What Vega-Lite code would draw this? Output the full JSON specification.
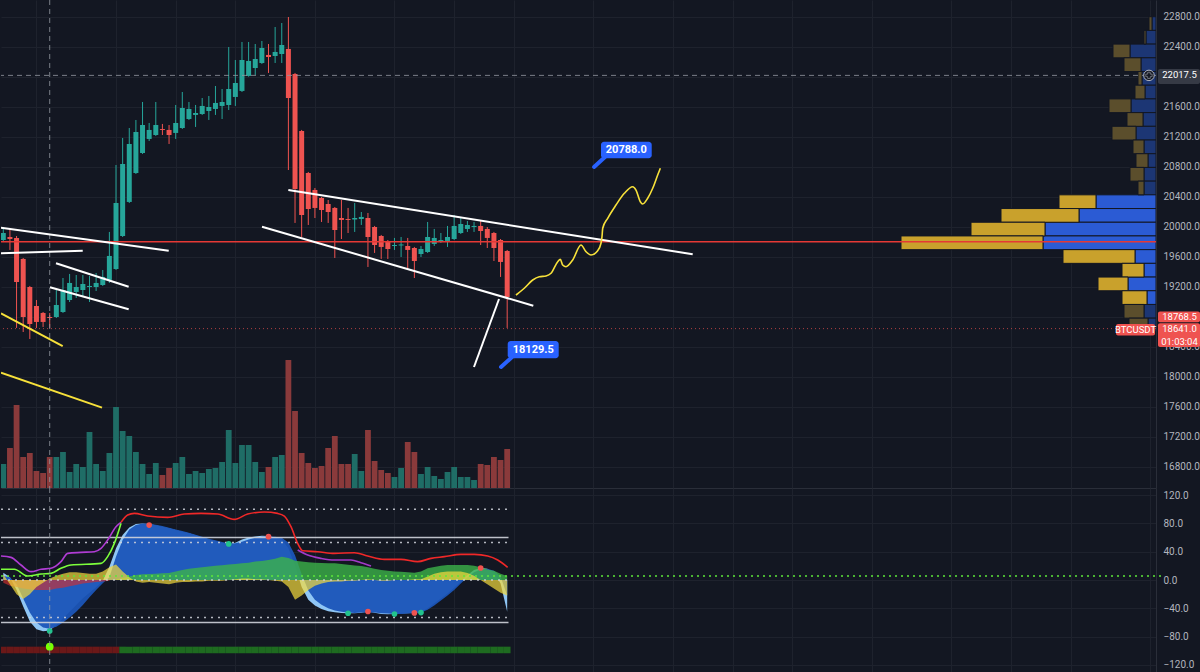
{
"$schema":"https://vega.github.io/schema/vega-lite/v6.json",
"background":"#131722",
"padding":0,
"spacing":0,
"config":{"view":{"stroke":null},"scale":{"continuousPadding":0},"axis":{"labelFont":"Roboto","labelFontSize":10,"labelColor":"#b2b5be","gridColor":"#1e222d","domainColor":"#2a2e39","ticks":false,"labelFlush":false,"labelOverlap":false}},
"datasets":{
"candles":[
{"i":0,"o":19823,"h":19996,"l":19796,"c":19916,"vol":240},
{"i":1,"o":19863,"h":19970,"l":19690,"c":19836,"vol":400},
{"i":2,"o":19850,"h":19876,"l":18650,"c":19263,"vol":830},
{"i":3,"o":19570,"h":19583,"l":18596,"c":18796,"vol":310},
{"i":4,"o":19196,"h":19210,"l":18503,"c":18703,"vol":350},
{"i":5,"o":18943,"h":19023,"l":18650,"c":18730,"vol":170},
{"i":6,"o":18850,"h":18863,"l":18663,"c":18730,"vol":150},
{"i":7,"o":18796,"h":18850,"l":18650,"c":18783,"vol":310},
{"i":8,"o":18796,"h":19156,"l":18783,"c":18956,"vol":310},
{"i":9,"o":18863,"h":19316,"l":18850,"c":19156,"vol":360},
{"i":10,"o":19023,"h":19370,"l":18996,"c":19250,"vol":160},
{"i":11,"o":19130,"h":19356,"l":19050,"c":19196,"vol":240},
{"i":12,"o":19156,"h":19356,"l":19063,"c":19236,"vol":210},
{"i":13,"o":19196,"h":19343,"l":18996,"c":19210,"vol":560},
{"i":14,"o":19196,"h":19383,"l":19143,"c":19250,"vol":240},
{"i":15,"o":19223,"h":19423,"l":19210,"c":19330,"vol":170},
{"i":16,"o":19290,"h":19930,"l":19250,"c":19610,"vol":350},
{"i":17,"o":19436,"h":20823,"l":19423,"c":20316,"vol":810},
{"i":18,"o":19876,"h":21183,"l":19863,"c":20836,"vol":570},
{"i":19,"o":20330,"h":21316,"l":20316,"c":21103,"vol":520},
{"i":20,"o":20716,"h":21423,"l":20703,"c":21263,"vol":360},
{"i":21,"o":20983,"h":21663,"l":20970,"c":21356,"vol":240},
{"i":22,"o":21170,"h":21383,"l":21143,"c":21290,"vol":140},
{"i":23,"o":21223,"h":21663,"l":21210,"c":21356,"vol":250},
{"i":24,"o":21303,"h":21370,"l":21223,"c":21290,"vol":130},
{"i":25,"o":21290,"h":21356,"l":21103,"c":21223,"vol":200},
{"i":26,"o":21250,"h":21623,"l":21170,"c":21383,"vol":250},
{"i":27,"o":21316,"h":21796,"l":21303,"c":21583,"vol":310},
{"i":28,"o":21436,"h":21663,"l":21423,"c":21570,"vol":140},
{"i":29,"o":21490,"h":21623,"l":21330,"c":21516,"vol":170},
{"i":30,"o":21503,"h":21716,"l":21490,"c":21610,"vol":150},
{"i":31,"o":21543,"h":21743,"l":21423,"c":21596,"vol":190},
{"i":32,"o":21570,"h":21876,"l":21490,"c":21650,"vol":200},
{"i":33,"o":21610,"h":21836,"l":21436,"c":21663,"vol":260},
{"i":34,"o":21623,"h":22396,"l":21556,"c":21836,"vol":580},
{"i":35,"o":21730,"h":22223,"l":21610,"c":21916,"vol":250},
{"i":36,"o":21810,"h":22463,"l":21796,"c":22223,"vol":430},
{"i":37,"o":22010,"h":22463,"l":22000,"c":22210,"vol":430},
{"i":38,"o":22116,"h":22436,"l":22023,"c":22236,"vol":260},
{"i":39,"o":22183,"h":22476,"l":22170,"c":22383,"vol":160},
{"i":40,"o":22290,"h":22436,"l":22050,"c":22263,"vol":210},
{"i":41,"o":22276,"h":22663,"l":22183,"c":22330,"vol":310},
{"i":42,"o":22303,"h":22716,"l":22183,"c":22423,"vol":330},
{"i":43,"o":22370,"h":22796,"l":20756,"c":21716,"vol":1280},
{"i":44,"o":22036,"h":22050,"l":20050,"c":20503,"vol":770},
{"i":45,"o":21276,"h":21290,"l":19863,"c":20156,"vol":350},
{"i":46,"o":20716,"h":20730,"l":20023,"c":20236,"vol":250},
{"i":47,"o":20490,"h":20516,"l":20116,"c":20250,"vol":200},
{"i":48,"o":20383,"h":20396,"l":20063,"c":20223,"vol":220},
{"i":49,"o":20303,"h":20356,"l":20050,"c":20196,"vol":400},
{"i":50,"o":20250,"h":20263,"l":19583,"c":19956,"vol":520},
{"i":51,"o":20116,"h":20356,"l":19836,"c":20090,"vol":240},
{"i":52,"o":20103,"h":20250,"l":19916,"c":20090,"vol":240},
{"i":53,"o":20096,"h":20316,"l":19930,"c":20116,"vol":340},
{"i":54,"o":20103,"h":20196,"l":20023,"c":20130,"vol":170},
{"i":55,"o":20116,"h":20183,"l":19463,"c":19863,"vol":580},
{"i":56,"o":19996,"h":20010,"l":19650,"c":19756,"vol":270},
{"i":57,"o":19876,"h":19890,"l":19570,"c":19730,"vol":180},
{"i":58,"o":19796,"h":19823,"l":19570,"c":19703,"vol":150},
{"i":59,"o":19743,"h":19850,"l":19690,"c":19756,"vol":110},
{"i":60,"o":19750,"h":19863,"l":19596,"c":19763,"vol":200},
{"i":61,"o":19743,"h":19850,"l":19436,"c":19690,"vol":460},
{"i":62,"o":19716,"h":19730,"l":19316,"c":19543,"vol":360},
{"i":63,"o":19636,"h":19743,"l":19596,"c":19703,"vol":140},
{"i":64,"o":19663,"h":20063,"l":19650,"c":19863,"vol":210},
{"i":65,"o":19770,"h":19970,"l":19743,"c":19850,"vol":120},
{"i":66,"o":19810,"h":19916,"l":19783,"c":19823,"vol":90},
{"i":67,"o":19810,"h":20010,"l":19730,"c":19863,"vol":160},
{"i":68,"o":19836,"h":20156,"l":19823,"c":20010,"vol":210},
{"i":69,"o":19916,"h":20116,"l":19903,"c":20036,"vol":110},
{"i":70,"o":19970,"h":20076,"l":19930,"c":20023,"vol":110},
{"i":71,"o":19996,"h":20063,"l":19930,"c":20010,"vol":80},
{"i":72,"o":20010,"h":20076,"l":19756,"c":19943,"vol":240},
{"i":73,"o":19970,"h":19996,"l":19716,"c":19850,"vol":230},
{"i":74,"o":19916,"h":19930,"l":19543,"c":19716,"vol":310},
{"i":75,"o":19823,"h":19836,"l":19330,"c":19530,"vol":280},
{"i":76,"o":19676,"h":19690,"l":18650,"c":19063,"vol":390}
],
"profile":[
{"lo":22617.3,"hi":22800,"up":4,"total":7,"va":false},
{"lo":22434.6,"hi":22617.3,"up":10,"total":12,"va":false},
{"lo":22251.9,"hi":22434.6,"up":26,"total":43,"va":false},
{"lo":22069.2,"hi":22251.9,"up":15,"total":32,"va":false},
{"lo":21886.5,"hi":22069.2,"up":14,"total":18,"va":false},
{"lo":21703.8,"hi":21886.5,"up":11,"total":21,"va":false},
{"lo":21521.1,"hi":21703.8,"up":25,"total":47,"va":false},
{"lo":21338.4,"hi":21521.1,"up":13,"total":29,"va":false},
{"lo":21155.7,"hi":21338.4,"up":20,"total":44,"va":false},
{"lo":20973,"hi":21155.7,"up":12,"total":23,"va":false},
{"lo":20790.3,"hi":20973,"up":8,"total":20,"va":false},
{"lo":20607.6,"hi":20790.3,"up":12,"total":26,"va":false},
{"lo":20424.9,"hi":20607.6,"up":12,"total":18,"va":false},
{"lo":20242.2,"hi":20424.9,"up":60,"total":97,"va":true},
{"lo":20059.5,"hi":20242.2,"up":77,"total":155,"va":true},
{"lo":19876.8,"hi":20059.5,"up":111,"total":185,"va":true},
{"lo":19694.1,"hi":19876.8,"up":113,"total":255,"va":true},
{"lo":19511.4,"hi":19694.1,"up":21,"total":93,"va":true},
{"lo":19328.7,"hi":19511.4,"up":12,"total":34,"va":true},
{"lo":19146,"hi":19328.7,"up":28,"total":58,"va":true},
{"lo":18963.3,"hi":19146,"up":9,"total":34,"va":true},
{"lo":18780.6,"hi":18963.3,"up":12,"total":32,"va":false},
{"lo":18597.9,"hi":18780.6,"up":8,"total":27,"va":false}
],
"draw":[
{"id":"a","kind":"white","t":-0.35,"p":19987},{"id":"a","kind":"white","t":24.95,"p":19680},
{"id":"b","kind":"white","t":-0.35,"p":19645},{"id":"b","kind":"white","t":11.98,"p":19680},
{"id":"c","kind":"white","t":7.95,"p":19512},{"id":"c","kind":"white","t":18.91,"p":19200},
{"id":"d","kind":"white","t":7.04,"p":19192},{"id":"d","kind":"white","t":18.91,"p":18899},
{"id":"e","kind":"white","t":42.99,"p":20489},{"id":"e","kind":"white","t":103.98,"p":19632},
{"id":"f","kind":"white","t":39.02,"p":20000},{"id":"f","kind":"white","t":79.94,"p":18947},
{"id":"g","kind":"white","t":70.99,"p":18129.5},{"id":"g","kind":"white","t":74.77,"p":19036},
{"id":"ya","kind":"yellow","t":-0.35,"p":18845},{"id":"ya","kind":"yellow","t":8.96,"p":18409},
{"id":"yb","kind":"yellow","t":-0.35,"p":18054},{"id":"yb","kind":"yellow","t":14.89,"p":17587},
{"id":"yp","kind":"path","t":77.33,"p":19089},{"id":"yp","kind":"path","t":78.58,"p":19179},
{"id":"yp","kind":"path","t":79.85,"p":19289},{"id":"yp","kind":"path","t":80.84,"p":19333},
{"id":"yp","kind":"path","t":81.86,"p":19343},{"id":"yp","kind":"path","t":82.61,"p":19379},
{"id":"yp","kind":"path","t":83.62,"p":19533},{"id":"yp","kind":"path","t":84.01,"p":19565},
{"id":"yp","kind":"path","t":84.37,"p":19489},{"id":"yp","kind":"path","t":84.87,"p":19467},
{"id":"yp","kind":"path","t":85.88,"p":19556},{"id":"yp","kind":"path","t":87.13,"p":19756},
{"id":"yp","kind":"path","t":87.89,"p":19667},{"id":"yp","kind":"path","t":88.64,"p":19623},
{"id":"yp","kind":"path","t":89.65,"p":19680},{"id":"yp","kind":"path","t":90.15,"p":19779},
{"id":"yp","kind":"path","t":90.3,"p":19867},{"id":"yp","kind":"path","t":90.41,"p":19979},
{"id":"yp","kind":"path","t":91.16,"p":20112},{"id":"yp","kind":"path","t":92.41,"p":20289},
{"id":"yp","kind":"path","t":93.67,"p":20445},{"id":"yp","kind":"path","t":94.93,"p":20533},
{"id":"yp","kind":"path","t":95.43,"p":20489},{"id":"yp","kind":"path","t":96.08,"p":20333},
{"id":"yp","kind":"path","t":96.44,"p":20303},{"id":"yp","kind":"path","t":97.19,"p":20379},
{"id":"yp","kind":"path","t":97.95,"p":20512},{"id":"yp","kind":"path","t":98.7,"p":20689},
{"id":"yp","kind":"path","t":99.1,"p":20779}
],
"hl":[{"name":"res","p":19800},{"name":"cross","p":22017.5},{"name":"last","p":18641}],
"vline":[{"t":7}],
"notes":[
{"label":"20788.0","t0":90.15,"t1":97.8,"p0":20912,"p1":21133,"tt":93.97,"tp":21023,"at":89.1,"ap":20796,"bt":90.75,"bp":20929},
{"label":"18129.5","t0":76.08,"t1":83.77,"p0":18245,"p1":18476,"tt":79.93,"tp":18360,"at":75.07,"ap":18129.5,"bt":76.73,"bp":18262}
],
"tags":[
{"label":"22017.5","kind":"cross","t0":174.16,"t1":180.5,"p0":21903,"p1":22103,"tt":177.4,"tp":22017.5},
{"label":"18768.5","kind":"red","t0":174.16,"t1":180.5,"p0":18727,"p1":18869,"tt":177.4,"tp":18798},
{"label":"18641.0","kind":"red","t0":174.16,"t1":180.5,"p0":18396,"p1":18712,"tt":177.4,"tp":18638},
{"label":"BTCUSDT","kind":"red","t0":167.83,"t1":173.71,"p0":18549,"p1":18703,"tt":170.77,"tp":18628},
{"label":"01:03:04","kind":"time","t0":174.16,"t1":180.5,"p0":18470,"p1":18470,"tt":177.4,"tp":18468}
],
"icon":[{"t":172.8,"p":22017.5}],
"osc":[
{"i":0,"wt1":10.4,"wt2":5.6,"vw":8,"mfi":-4,"st":0},
{"i":1,"wt1":3.8,"wt2":4,"vw":-6,"mfi":-8,"st":0},
{"i":2,"wt1":-14.1,"wt2":-6,"vw":-20,"mfi":-10,"st":0},
{"i":3,"wt1":-37.6,"wt2":-26,"vw":-27,"mfi":-12,"st":0},
{"i":4,"wt1":-58.8,"wt2":-46,"vw":-20,"mfi":-13,"st":0},
{"i":5,"wt1":-69.6,"wt2":-60,"vw":-10,"mfi":-14,"st":0},
{"i":6,"wt1":-72.5,"wt2":-67,"vw":-4,"mfi":-14,"st":0},
{"i":7,"wt1":-71.5,"wt2":-69,"vw":2,"mfi":-14,"st":0},
{"i":8,"wt1":-63.5,"wt2":-66,"vw":6,"mfi":-12,"st":0},
{"i":9,"wt1":-54.1,"wt2":-60,"vw":9,"mfi":-11,"st":0},
{"i":10,"wt1":-44.7,"wt2":-53,"vw":11,"mfi":-9,"st":0},
{"i":11,"wt1":-35.3,"wt2":-44.7,"vw":11,"mfi":-7,"st":0},
{"i":12,"wt1":-25.9,"wt2":-35.3,"vw":10,"mfi":-5,"st":0},
{"i":13,"wt1":-17.9,"wt2":-24.5,"vw":9,"mfi":-4,"st":0},
{"i":14,"wt1":-10.4,"wt2":-14.1,"vw":9,"mfi":-3,"st":0},
{"i":15,"wt1":-0.9,"wt2":-4.7,"vw":12,"mfi":-2,"st":0},
{"i":16,"wt1":18.8,"wt2":3.8,"vw":18,"mfi":-1,"st":0},
{"i":17,"wt1":44.7,"wt2":33,"vw":22,"mfi":1,"st":0},
{"i":18,"wt1":63.5,"wt2":56.5,"vw":12,"mfi":3,"st":1},
{"i":19,"wt1":74.3,"wt2":71.5,"vw":4,"mfi":5,"st":1},
{"i":20,"wt1":79.1,"wt2":77.6,"vw":-2,"mfi":7,"st":1},
{"i":21,"wt1":80,"wt2":80,"vw":-4,"mfi":8,"st":1},
{"i":22,"wt1":79.1,"wt2":79.5,"vw":-3,"mfi":8.5,"st":1},
{"i":23,"wt1":77.2,"wt2":78.1,"vw":-4,"mfi":9,"st":1},
{"i":24,"wt1":75.3,"wt2":76.2,"vw":-5,"mfi":9.4,"st":1},
{"i":25,"wt1":73,"wt2":73.9,"vw":-6,"mfi":10,"st":1},
{"i":26,"wt1":70.6,"wt2":71.5,"vw":-4,"mfi":12,"st":1},
{"i":27,"wt1":68.2,"wt2":69.2,"vw":-3,"mfi":14,"st":1},
{"i":28,"wt1":65.9,"wt2":66.8,"vw":-3,"mfi":16,"st":1},
{"i":29,"wt1":63.1,"wt2":64,"vw":-2,"mfi":17,"st":1},
{"i":30,"wt1":60.2,"wt2":61.2,"vw":-2,"mfi":18,"st":1},
{"i":31,"wt1":57.4,"wt2":58.4,"vw":-1,"mfi":19,"st":1},
{"i":32,"wt1":55.1,"wt2":56,"vw":-1,"mfi":20,"st":1},
{"i":33,"wt1":52.7,"wt2":53.7,"vw":-1,"mfi":21,"st":1},
{"i":34,"wt1":50.3,"wt2":51.8,"vw":0,"mfi":22,"st":1},
{"i":35,"wt1":52.7,"wt2":51.8,"vw":1,"mfi":22.6,"st":1},
{"i":36,"wt1":57.4,"wt2":54.1,"vw":2,"mfi":23.5,"st":1},
{"i":37,"wt1":60.2,"wt2":57.4,"vw":2,"mfi":24.5,"st":1},
{"i":38,"wt1":61.6,"wt2":59.8,"vw":1,"mfi":26,"st":1},
{"i":39,"wt1":62.6,"wt2":61.2,"vw":1,"mfi":27,"st":1},
{"i":40,"wt1":62.1,"wt2":61.6,"vw":0,"mfi":28.2,"st":1},
{"i":41,"wt1":60.2,"wt2":61.2,"vw":-1,"mfi":30,"st":1},
{"i":42,"wt1":57.4,"wt2":59.8,"vw":-2,"mfi":33,"st":1},
{"i":43,"wt1":45,"wt2":53,"vw":-10,"mfi":31,"st":1},
{"i":44,"wt1":20,"wt2":35,"vw":-28,"mfi":27.3,"st":1},
{"i":45,"wt1":-10,"wt2":8,"vw":-22,"mfi":26,"st":1},
{"i":46,"wt1":-28,"wt2":-15,"vw":-14,"mfi":25,"st":1},
{"i":47,"wt1":-36,"wt2":-28,"vw":-8,"mfi":24.5,"st":1},
{"i":48,"wt1":-41,"wt2":-35,"vw":-5,"mfi":24,"st":1},
{"i":49,"wt1":-44,"wt2":-40,"vw":-3,"mfi":23.7,"st":1},
{"i":50,"wt1":-45.5,"wt2":-43,"vw":-2,"mfi":23.5,"st":1},
{"i":51,"wt1":-46.5,"wt2":-45,"vw":-2,"mfi":22.5,"st":1},
{"i":52,"wt1":-47.1,"wt2":-46,"vw":-1,"mfi":21.5,"st":1},
{"i":53,"wt1":-47.1,"wt2":-46.5,"vw":-1,"mfi":20.5,"st":1},
{"i":54,"wt1":-46.1,"wt2":-46,"vw":0,"mfi":19.8,"st":1},
{"i":55,"wt1":-44.7,"wt2":-46,"vw":1,"mfi":18,"st":1},
{"i":56,"wt1":-46.1,"wt2":-46,"vw":0,"mfi":16,"st":1},
{"i":57,"wt1":-48,"wt2":-47,"vw":-1,"mfi":14.1,"st":1},
{"i":58,"wt1":-48.5,"wt2":-47.5,"vw":-1,"mfi":13,"st":1},
{"i":59,"wt1":-48,"wt2":-48,"vw":0,"mfi":12,"st":1},
{"i":60,"wt1":-47.5,"wt2":-48,"vw":0,"mfi":11.8,"st":1},
{"i":61,"wt1":-47.1,"wt2":-47.5,"vw":0,"mfi":11,"st":1},
{"i":62,"wt1":-46.1,"wt2":-47,"vw":1,"mfi":10.4,"st":1},
{"i":63,"wt1":-45.2,"wt2":-46,"vw":1,"mfi":12,"st":1},
{"i":64,"wt1":-40,"wt2":-42,"vw":5,"mfi":16.5,"st":1},
{"i":65,"wt1":-33,"wt2":-36,"vw":9,"mfi":18.5,"st":1},
{"i":66,"wt1":-26,"wt2":-29,"vw":11,"mfi":20,"st":1},
{"i":67,"wt1":-19,"wt2":-22,"vw":12,"mfi":21.2,"st":1},
{"i":68,"wt1":-11,"wt2":-14,"vw":12,"mfi":21.2,"st":1},
{"i":69,"wt1":-2,"wt2":-5,"vw":12,"mfi":21.2,"st":1},
{"i":70,"wt1":7,"wt2":4,"vw":10,"mfi":21.2,"st":1},
{"i":71,"wt1":14,"wt2":11,"vw":6,"mfi":20,"st":1},
{"i":72,"wt1":17,"wt2":15,"vw":0,"mfi":18,"st":1},
{"i":73,"wt1":16,"wt2":16,"vw":-6,"mfi":15,"st":1},
{"i":74,"wt1":10,"wt2":13,"vw":-12,"mfi":13,"st":1},
{"i":75,"wt1":-5,"wt2":5,"vw":-18,"mfi":9,"st":1},
{"i":76,"wt1":-45,"wt2":-22,"vw":-22,"mfi":5.6,"st":1}
],
"stoch":[
{"s":"purple","t":-0.35,"v":33.9},{"s":"purple","t":1.16,"v":32},{"s":"purple","t":2.67,"v":21.2},{"s":"purple","t":4.18,"v":11.8},{"s":"purple","t":5.69,"v":15.1},{"s":"purple","t":7.19,"v":16.5},{"s":"purple","t":8.7,"v":25.9},{"s":"purple","t":9.71,"v":37.6},{"s":"purple","t":11.72,"v":39},{"s":"purple","t":13.73,"v":40},{"s":"purple","t":14.74,"v":44.7},{"s":"purple","t":15.74,"v":56.5},{"s":"purple","t":17,"v":75.3},{"s":"purple","t":17.75,"v":81.4},
{"s":"lime","t":-0.35,"v":15.1},{"s":"lime","t":1.66,"v":15.1},{"s":"lime","t":3.67,"v":5.6},{"s":"lime","t":5.69,"v":8.5},{"s":"lime","t":7.19,"v":9.4},{"s":"lime","t":8.7,"v":16.5},{"s":"lime","t":10.21,"v":21.2},{"s":"lime","t":14.74,"v":23.5},{"s":"lime","t":15.74,"v":33},{"s":"lime","t":16.75,"v":51.8},{"s":"lime","t":17.75,"v":80},
{"s":"red","t":17.75,"v":81.4},{"s":"red","t":18.76,"v":91.8},{"s":"red","t":19.76,"v":94.1},{"s":"red","t":21.77,"v":90.4},{"s":"red","t":24.79,"v":88.5},{"s":"red","t":27.31,"v":93.2},{"s":"red","t":29.82,"v":94.1},{"s":"red","t":32.33,"v":93.2},{"s":"red","t":34.85,"v":85.7},{"s":"red","t":36.86,"v":93.2},{"s":"red","t":39.37,"v":96},{"s":"red","t":41.38,"v":94.1},{"s":"red","t":42.39,"v":90.4},{"s":"red","t":43.39,"v":75.3},{"s":"red","t":44.4,"v":51.8},{"s":"red","t":45.15,"v":41.4},{"s":"red","t":47.42,"v":40},{"s":"red","t":49.93,"v":37.6},{"s":"red","t":52.95,"v":38.6},{"s":"red","t":54.96,"v":33.9},{"s":"red","t":57.47,"v":29.2},{"s":"red","t":59.98,"v":29.2},{"s":"red","t":62.5,"v":25.9},{"s":"red","t":64.51,"v":30.6},{"s":"red","t":66.52,"v":33},{"s":"red","t":69.03,"v":36.2},{"s":"red","t":71.05,"v":36.2},{"s":"red","t":73.06,"v":33.9},{"s":"red","t":74.57,"v":28.2},{"s":"red","t":76.07,"v":17.9},
{"s":"purple2","t":44.4,"v":42.4},{"s":"purple2","t":45.91,"v":35.3},{"s":"purple2","t":47.92,"v":30.6},{"s":"purple2","t":49.93,"v":28.2},{"s":"purple2","t":52.44,"v":28.2},{"s":"purple2","t":53.95,"v":24.5},{"s":"purple2","t":55.46,"v":19.8}
],
"dots":[
{"i":22,"v":77.6,"c":"bear"},{"i":40,"v":61.2,"c":"bear"},{"i":55,"v":-44.5,"c":"bear"},{"i":62,"v":-46.5,"c":"bear"},{"i":72,"v":17,"c":"bear"},
{"i":7,"v":-72,"c":"bull"},{"i":34,"v":51,"c":"bull"},{"i":52,"v":-47,"c":"bull"},{"i":59,"v":-48,"c":"bull"},{"i":63,"v":-46,"c":"bull"}
],
"sig":[{"i":7,"v":-94.2}],
"oslv":[
{"lv":100,"t0":-0.347,"t1":76.2,"k":"dot"},{"lv":53,"t0":-0.347,"t1":76.2,"k":"dot"},{"lv":0,"t0":-0.347,"t1":76.2,"k":"dot"},{"lv":-53,"t0":-0.347,"t1":76.2,"k":"dot"},
{"lv":60,"t0":-0.347,"t1":76.2,"k":"solid"},{"lv":-60,"t0":-0.347,"t1":76.2,"k":"solid"},
{"lv":5.6,"t0":-0.347,"t1":174.9,"k":"zero"}
]
},
"vconcat":[
{
"width":1155,"height":488,
"layer":[
{"data":{"name":"profile"},
 "layer":[
  {"mark":{"type":"rect","stroke":"#131722","strokeWidth":1,"clip":true},
   "encoding":{
    "x":{"field":"up","type":"quantitative","scale":{"domain":[0,1155],"reverse":true,"nice":false},"axis":null},
    "x2":{"datum":0},
    "y":{"field":"hi","type":"quantitative","scale":{"domain":[16516,23022.7],"nice":false,"zero":false},"axis":null},
    "y2":{"field":"lo"},
    "color":{"condition":{"test":"datum.va","value":"#2b5bd4"},"value":"#1c3674"}}},
  {"mark":{"type":"rect","stroke":"#131722","strokeWidth":1,"clip":true},
   "encoding":{
    "x":{"field":"total","type":"quantitative","scale":{"domain":[0,1155],"reverse":true,"nice":false},"axis":null},
    "x2":{"field":"up"},
    "y":{"field":"hi","type":"quantitative","scale":{"domain":[16516,23022.7],"nice":false,"zero":false},"axis":null},
    "y2":{"field":"lo"},
    "color":{"condition":{"test":"datum.va","value":"#c9a12c"},"value":"#5b4e2c"}}}
 ]},
{"data":{"name":"candles"},
 "mark":{"type":"bar","size":5.8,"clip":true},
 "encoding":{
  "x":{"field":"i","type":"quantitative","scale":{"domain":[-0.347,173.86],"nice":false,"zero":false},"axis":null},
  "y":{"field":"vol","type":"quantitative","scale":{"domain":[0,4880],"nice":false},"axis":null},
  "y2":{"datum":0},
  "color":{"condition":{"test":"datum.c >= datum.o","value":"#1f6d66"},"value":"#8a3a3b"}}},
{"layer":[
 {"data":{"name":"candles"},
  "mark":{"type":"rule","strokeWidth":1,"clip":true},
  "encoding":{
   "x":{"field":"i","type":"quantitative","scale":{"domain":[-0.347,173.86],"nice":false,"zero":false},
        "axis":{"values":[5,17,26,35,47,59,68,77,89,101,110,119,131,143,152,161,173],"tickCount":60,"grid":true,"labels":false,"ticks":false,"domain":true,"title":null}},
   "y":{"field":"l","type":"quantitative","scale":{"domain":[16516,23022.7],"nice":false,"zero":false},
        "axis":{"orient":"right","values":[16800,17200,17600,18000,18400,18800,19200,19600,20000,20400,20800,21200,21600,22000,22400,22800],"tickCount":60,"labelExpr":"datum.value == 22000 || datum.value == 18800 ? '' : format(datum.value, '.1f')","grid":true,"ticks":false,"domain":true,"labelPadding":7,"labelOverlap":false,"labelFontSize":10,"title":null}},
   "y2":{"field":"h"},
   "color":{"condition":{"test":"datum.c >= datum.o","value":"#26a69a"},"value":"#ef5350"}}},
 {"data":{"name":"candles"},
  "mark":{"type":"bar","size":5,"clip":true},
  "encoding":{
   "x":{"field":"i","type":"quantitative","scale":{"domain":[-0.347,173.86],"nice":false,"zero":false}},
   "y":{"field":"o","type":"quantitative","scale":{"domain":[16516,23022.7],"nice":false,"zero":false}},
   "y2":{"field":"c"},
   "color":{"condition":{"test":"datum.c >= datum.o","value":"#26a69a"},"value":"#ef5350"}}},
 {"data":{"name":"hl"},"transform":[{"filter":"datum.name == 'res'"}],
  "mark":{"type":"rule","color":"#e53935","strokeWidth":1.6,"clip":true},
  "encoding":{"y":{"field":"p","type":"quantitative","scale":{"domain":[16516,23022.7],"nice":false,"zero":false}}}},
 {"data":{"name":"hl"},"transform":[{"filter":"datum.name == 'cross'"}],
  "mark":{"type":"rule","color":"#9598a1","strokeWidth":1,"strokeDash":[5,4],"opacity":0.8,"clip":true},
  "encoding":{"y":{"field":"p","type":"quantitative","scale":{"domain":[16516,23022.7],"nice":false,"zero":false}}}},
 {"data":{"name":"hl"},"transform":[{"filter":"datum.name == 'last'"}],
  "mark":{"type":"rule","color":"#ef5350","strokeWidth":1,"strokeDash":[1,3],"opacity":0.7,"clip":true},
  "encoding":{"y":{"field":"p","type":"quantitative","scale":{"domain":[16516,23022.7],"nice":false,"zero":false}}}},
 {"data":{"name":"vline"},
  "mark":{"type":"rule","color":"#9598a1","strokeWidth":1,"strokeDash":[5,4],"opacity":0.8,"clip":true},
  "encoding":{"x":{"field":"t","type":"quantitative","scale":{"domain":[-0.347,173.86],"nice":false,"zero":false}}}},
 {"data":{"name":"draw"},"transform":[{"filter":"datum.kind == 'white'"}],
  "mark":{"type":"line","color":"#ffffff","strokeWidth":2,"clip":true},
  "encoding":{
   "x":{"field":"t","type":"quantitative","scale":{"domain":[-0.347,173.86],"nice":false,"zero":false}},
   "y":{"field":"p","type":"quantitative","scale":{"domain":[16516,23022.7],"nice":false,"zero":false}},
   "detail":{"field":"id"}}},
 {"data":{"name":"draw"},"transform":[{"filter":"datum.kind == 'yellow'"}],
  "mark":{"type":"line","color":"#f7e13a","strokeWidth":2,"clip":true},
  "encoding":{
   "x":{"field":"t","type":"quantitative","scale":{"domain":[-0.347,173.86],"nice":false,"zero":false}},
   "y":{"field":"p","type":"quantitative","scale":{"domain":[16516,23022.7],"nice":false,"zero":false}},
   "detail":{"field":"id"}}},
 {"data":{"name":"draw"},"transform":[{"filter":"datum.kind == 'path'"}],
  "mark":{"type":"line","color":"#f7e13a","strokeWidth":1.6,"interpolate":"monotone","clip":true},
  "encoding":{
   "x":{"field":"t","type":"quantitative","scale":{"domain":[-0.347,173.86],"nice":false,"zero":false}},
   "y":{"field":"p","type":"quantitative","scale":{"domain":[16516,23022.7],"nice":false,"zero":false}}}},
 {"data":{"name":"notes"},
  "mark":{"type":"rule","color":"#2962ff","strokeWidth":4,"strokeCap":"round","clip":true},
  "encoding":{
   "x":{"field":"at","type":"quantitative","scale":{"domain":[-0.347,173.86],"nice":false,"zero":false}},
   "x2":{"field":"bt"},
   "y":{"field":"ap","type":"quantitative","scale":{"domain":[16516,23022.7],"nice":false,"zero":false}},
   "y2":{"field":"bp"}}},
 {"data":{"name":"notes"},
  "mark":{"type":"rect","color":"#2962ff","cornerRadius":3,"clip":true},
  "encoding":{
   "x":{"field":"t0","type":"quantitative","scale":{"domain":[-0.347,173.86],"nice":false,"zero":false}},
   "x2":{"field":"t1"},
   "y":{"field":"p0","type":"quantitative","scale":{"domain":[16516,23022.7],"nice":false,"zero":false}},
   "y2":{"field":"p1"}}},
 {"data":{"name":"notes"},
  "mark":{"type":"text","font":"Roboto","fontSize":11,"fontWeight":"bold","color":"#ffffff","align":"center","baseline":"middle","clip":true},
  "encoding":{
   "x":{"field":"tt","type":"quantitative","scale":{"domain":[-0.347,173.86],"nice":false,"zero":false}},
   "y":{"field":"tp","type":"quantitative","scale":{"domain":[16516,23022.7],"nice":false,"zero":false}},
   "text":{"field":"label"}}},
 {"data":{"name":"tags"},"transform":[{"filter":"datum.kind != 'time'"}],
  "mark":{"type":"rect","cornerRadius":2},
  "encoding":{
   "x":{"field":"t0","type":"quantitative","scale":{"domain":[-0.347,173.86],"nice":false,"zero":false}},
   "x2":{"field":"t1"},
   "y":{"field":"p0","type":"quantitative","scale":{"domain":[16516,23022.7],"nice":false,"zero":false}},
   "y2":{"field":"p1"},
   "color":{"condition":{"test":"datum.kind == 'cross'","value":"#363a45"},"value":"#ef5350"}}},
 {"data":{"name":"tags"},
  "mark":{"type":"text","font":"Roboto","fontSize":9.5,"color":"#ffffff","align":"center","baseline":"middle"},
  "encoding":{
   "x":{"field":"tt","type":"quantitative","scale":{"domain":[-0.347,173.86],"nice":false,"zero":false}},
   "y":{"field":"tp","type":"quantitative","scale":{"domain":[16516,23022.7],"nice":false,"zero":false}},
   "text":{"field":"label"}}},
 {"data":{"name":"icon"},
  "mark":{"type":"point","shape":"circle","size":110,"filled":false,"stroke":"#b2b5be","strokeWidth":1,"fill":"#131722","fillOpacity":1},
  "encoding":{
   "x":{"field":"t","type":"quantitative","scale":{"domain":[-0.347,173.86],"nice":false,"zero":false}},
   "y":{"field":"p","type":"quantitative","scale":{"domain":[16516,23022.7],"nice":false,"zero":false}}}},
 {"data":{"name":"icon"},
  "mark":{"type":"point","shape":"cross","size":40,"filled":false,"stroke":"#b2b5be","strokeWidth":0.8},
  "encoding":{
   "x":{"field":"t","type":"quantitative","scale":{"domain":[-0.347,173.86],"nice":false,"zero":false}},
   "y":{"field":"p","type":"quantitative","scale":{"domain":[16516,23022.7],"nice":false,"zero":false}}}}
]}
],
"resolve":{"scale":{"x":"independent","y":"independent"}}
},
{
"width":1155,"height":184,
"layer":[
 {"data":{"name":"osc"},
  "mark":{"type":"area","color":"#8fc6f5","clip":true},
  "encoding":{
   "x":{"field":"i","type":"quantitative","scale":{"domain":[-0.347,173.86],"nice":false,"zero":false},
        "axis":{"values":[5,17,26,35,47,59,68,77,89,101,110,119,131,143,152,161,173],"tickCount":60,"grid":true,"labels":false,"ticks":false,"domain":false,"title":null}},
   "y":{"field":"wt1","type":"quantitative","scale":{"domain":[-130,130],"nice":false,"zero":false},
        "axis":{"orient":"right","values":[120,80,40,0,-40,-80,-120],"tickCount":60,"format":".1f","grid":true,"ticks":false,"domain":true,"labelPadding":7,"labelOverlap":false,"labelFontSize":10,"title":null}},
   "y2":{"datum":0}}},
 {"data":{"name":"osc"},
  "mark":{"type":"area","color":"#1b55b8","opacity":0.95,"clip":true},
  "encoding":{
   "x":{"field":"i","type":"quantitative","scale":{"domain":[-0.347,173.86],"nice":false,"zero":false}},
   "y":{"field":"wt2","type":"quantitative","scale":{"domain":[-130,130],"nice":false,"zero":false}},
   "y2":{"datum":0}}},
 {"data":{"name":"osc"},"transform":[{"filter":"datum.mfi >= 0"}],
  "mark":{"type":"area","color":"#3cb34a","opacity":0.8,"clip":true},
  "encoding":{
   "x":{"field":"i","type":"quantitative","scale":{"domain":[-0.347,173.86],"nice":false,"zero":false}},
   "y":{"field":"mfi","type":"quantitative","scale":{"domain":[-130,130],"nice":false,"zero":false}},
   "y2":{"datum":0}}},
 {"data":{"name":"osc"},"transform":[{"filter":"datum.mfi <= 0"}],
  "mark":{"type":"area","color":"#d32f2f","opacity":0.65,"clip":true},
  "encoding":{
   "x":{"field":"i","type":"quantitative","scale":{"domain":[-0.347,173.86],"nice":false,"zero":false}},
   "y":{"field":"mfi","type":"quantitative","scale":{"domain":[-130,130],"nice":false,"zero":false}},
   "y2":{"datum":0}}},
 {"data":{"name":"osc"},
  "mark":{"type":"area","color":"#f5dc3c","opacity":0.7,"clip":true},
  "encoding":{
   "x":{"field":"i","type":"quantitative","scale":{"domain":[-0.347,173.86],"nice":false,"zero":false}},
   "y":{"field":"vw","type":"quantitative","scale":{"domain":[-130,130],"nice":false,"zero":false}},
   "y2":{"datum":0}}},
 {"data":{"name":"oslv"},"transform":[{"filter":"datum.k == 'dot'"}],
  "mark":{"type":"rule","color":"#d1d4dc","strokeDash":[2,5],"strokeWidth":1.5,"opacity":0.85,"clip":true},
  "encoding":{
   "x":{"field":"t0","type":"quantitative","scale":{"domain":[-0.347,173.86],"nice":false,"zero":false}},
   "x2":{"field":"t1"},
   "y":{"field":"lv","type":"quantitative","scale":{"domain":[-130,130],"nice":false,"zero":false}}}},
 {"data":{"name":"oslv"},"transform":[{"filter":"datum.k == 'solid'"}],
  "mark":{"type":"rule","color":"#d1d4dc","strokeWidth":1.5,"opacity":0.9,"clip":true},
  "encoding":{
   "x":{"field":"t0","type":"quantitative","scale":{"domain":[-0.347,173.86],"nice":false,"zero":false}},
   "x2":{"field":"t1"},
   "y":{"field":"lv","type":"quantitative","scale":{"domain":[-130,130],"nice":false,"zero":false}}}},
 {"data":{"name":"oslv"},"transform":[{"filter":"datum.k == 'zero'"}],
  "mark":{"type":"rule","color":"#5ee83a","strokeDash":[2,4],"strokeWidth":1.5,"clip":false},
  "encoding":{
   "x":{"field":"t0","type":"quantitative","scale":{"domain":[-0.347,173.86],"nice":false,"zero":false}},
   "x2":{"field":"t1"},
   "y":{"field":"lv","type":"quantitative","scale":{"domain":[-130,130],"nice":false,"zero":false}}}},
 {"data":{"name":"stoch"},
  "mark":{"type":"line","strokeWidth":1.6,"interpolate":"monotone","clip":true},
  "encoding":{
   "x":{"field":"t","type":"quantitative","scale":{"domain":[-0.347,173.86],"nice":false,"zero":false}},
   "y":{"field":"v","type":"quantitative","scale":{"domain":[-130,130],"nice":false,"zero":false}},
   "color":{"field":"s","type":"nominal","scale":{"domain":["purple","lime","red","purple2"],"range":["#b03cd4","#7dff3c","#f02828","#a23ac8"]},"legend":null}}},
 {"data":{"name":"osc"},
  "mark":{"type":"bar","size":6.7,"clip":true},
  "encoding":{
   "x":{"field":"i","type":"quantitative","scale":{"domain":[-0.347,173.86],"nice":false,"zero":false}},
   "y":{"datum":-94.2,"type":"quantitative","scale":{"domain":[-130,130],"nice":false,"zero":false}},
   "y2":{"datum":-103.5},
   "color":{"condition":{"test":"datum.st == 1","value":"#1e6b20"},"value":"#6b1818"}}},
 {"data":{"name":"dots"},
  "mark":{"type":"point","filled":true,"size":32,"opacity":1,"clip":true},
  "encoding":{
   "x":{"field":"i","type":"quantitative","scale":{"domain":[-0.347,173.86],"nice":false,"zero":false}},
   "y":{"field":"v","type":"quantitative","scale":{"domain":[-130,130],"nice":false,"zero":false}},
   "color":{"condition":{"test":"datum.c == 'bull'","value":"#22c38e"},"value":"#ef5350"}}},
 {"data":{"name":"sig"},
  "mark":{"type":"point","filled":true,"size":60,"color":"#76ff03","opacity":1,"clip":true},
  "encoding":{
   "x":{"field":"i","type":"quantitative","scale":{"domain":[-0.347,173.86],"nice":false,"zero":false}},
   "y":{"field":"v","type":"quantitative","scale":{"domain":[-130,130],"nice":false,"zero":false}}}},
 {"data":{"name":"vline"},
  "mark":{"type":"rule","color":"#9598a1","strokeWidth":1,"strokeDash":[5,4],"opacity":0.8,"clip":true},
  "encoding":{"x":{"field":"t","type":"quantitative","scale":{"domain":[-0.347,173.86],"nice":false,"zero":false}}}}
]
}
]
}
